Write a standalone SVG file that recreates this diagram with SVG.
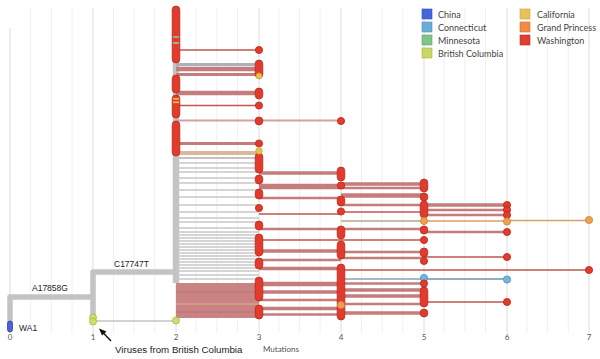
<svg xmlns="http://www.w3.org/2000/svg" width="600" height="359" viewBox="0 0 600 359">
<defs>
<style>
.minor{stroke:#f0f0f0;stroke-width:1;fill:none}
.major{stroke:#dcdcdc;stroke-width:1;fill:none}
.br{stroke:#c3c3c3;fill:none;stroke-linejoin:round}
.gl{stroke:#c8c8c8;stroke-width:1.6;fill:none}
.pk{stroke:#c47c7c;fill:none}
.rl{stroke:#c5554e;stroke-width:1.3;fill:none}
.n{fill:#e23a2b;stroke:#b5291e;stroke-width:.8}
.y{fill:#e9c152;stroke:#c9a035;stroke-width:.8}
.o{fill:#f0a050;stroke:#d0803a;stroke-width:.8}
.b{fill:#78b5db;stroke:#4a8fbf;stroke-width:.8}
.g{fill:#cfdd6a;stroke:#a9b545;stroke-width:.8}
.t{font-family:"Liberation Sans",Arial,sans-serif;fill:#222}
.ax{font-family:Lato,"Liberation Sans",sans-serif;font-size:8px;fill:#555}
.lg{font-family:Lato,"Liberation Sans",sans-serif;font-size:9px;fill:#444}
</style>
</defs>
<rect width="600" height="359" fill="#fff"/>
<g id="grid">
<path class="minor" d="M30.7 8V333M51.4 8V333M72 8V333M113.4 8V333M134.1 8V333M154.7 8V333M196.1 8V333M216.8 8V333M237.4 8V333M278.8 8V333M299.5 8V333M320.1 8V333M361.5 8V333M382.2 8V333M402.8 8V333M444.2 8V333M464.9 8V333M485.5 8V333M526.9 8V333M547.6 8V333M568.2 8V333"/>
<path class="major" d="M10 28V333M93 8V333M176 8V333M259 8V333M341 8V333M424 8V333M507 8V333M589 8V333"/>
</g>
<g id="axis">
<text class="ax" x="10" y="340" text-anchor="middle">0</text>
<text class="ax" x="93" y="340" text-anchor="middle">1</text>
<text class="ax" x="176" y="340" text-anchor="middle">2</text>
<text class="ax" x="259" y="340" text-anchor="middle">3</text>
<text class="ax" x="341" y="340" text-anchor="middle">4</text>
<text class="ax" x="424" y="340" text-anchor="middle">5</text>
<text class="ax" x="507" y="340" text-anchor="middle">6</text>
<text class="ax" x="589" y="340" text-anchor="middle">7</text>
<text class="ax" x="263" y="352">Mutations</text>
</g>
<g id="connectors">
<path class="br" stroke-width="5.5" d="M10 324V297H93"/>
<path class="br" stroke-width="5.5" d="M93 318V272H176"/>
<path class="br" stroke-width="6.5" d="M176 8V283"/>
<path class="br" stroke-width="1.5" d="M93 321H176"/>
<path class="gl" d="M176 163H259M176 168H259M176 172H259M176 178H259M176 183H259M176 190H259M176 197H259M176 205H259M176 212H259M176 218H259M176 222H259M176 228H259M176 232H259M176 235H259M176 238H259M176 241H259M176 244H259M176 247H259M176 250H259M176 253H259M176 256H259M176 259H259M176 262H259M176 265H259M176 268H259M176 271H259M176 275H259M176 279H259"/>
<rect x="176" y="283" width="83" height="35" fill="#c98383"/>
<path d="M176 304H259" stroke="#d8a287" stroke-width="1.5"/>
<path d="M176 292H259M176 312H259" stroke="#c07272" stroke-width="1"/>
<path class="rl" d="M176 50H259M176 105.5H259"/>
<path d="M176 64.5H259" stroke="#a9b2bb" stroke-width="3"/>
<path class="pk" stroke-width="4.5" d="M176 69H259M176 93H259"/>
<path class="pk" stroke-width="3" d="M176 74.5H259M176 143.5H259"/>
<path d="M176 120.5H341" stroke="#d2a2a2" stroke-width="2"/>
<path d="M176 153H259" stroke="#d9b79b" stroke-width="4"/>
<path d="M176 158H259" stroke="#c3c3c3" stroke-width="2"/>
<path class="pk" stroke-width="3.5" d="M259 173H341M259 251H341M259 268.5H341M259 292H341M259 308.5H341"/>
<path class="pk" stroke-width="5.5" d="M259 186.5H341"/>
<path class="pk" stroke-width="4.5" d="M259 284H341"/>
<path class="pk" stroke-width="2.5" d="M259 198H341M259 229H341M259 260H341M259 300H341M259 314.5H341"/>
<path class="rl" d="M259 214H341M259 240H341"/>
<path class="pk" stroke-width="3.5" d="M341 184H424M341 290H424M341 296H424M341 313H424"/>
<path class="pk" stroke-width="2.5" d="M341 188H424M341 229H424M341 252H424M341 258H424M341 283.5H424M341 304H424"/>
<path class="pk" stroke-width="4.5" d="M341 195.5H424"/>
<path class="pk" stroke-width="2.5" d="M341 205H424"/>
<path class="rl" d="M341 212H424M341 240H424M341 270H589"/>
<path d="M341 221H424" stroke="#c6bfa8" stroke-width="2"/>
<path d="M341 279H424" stroke="#a8b8c6" stroke-width="2"/>
<path class="pk" stroke-width="3.5" d="M424 205H507"/>
<path class="pk" stroke-width="2.5" d="M424 210H507M424 215H507M424 232H507"/>
<path class="rl" d="M424 257H507M424 302H507"/>
<path d="M424 221H507M507 220.5H589" stroke="#dca066" stroke-width="1.5"/>
<path d="M424 279H507" stroke="#8faec6" stroke-width="2"/>
</g>
<g id="node-wa1">
<rect x="7.5" y="321" width="5" height="11" rx="2.5" fill="#4a62d8" stroke="#3b3f9c" stroke-width=".8"/>
<text class="t" x="19" y="331" font-size="8.5">WA1</text>
</g>
<g id="labels">
<text class="t" x="32" y="291" font-size="8.5">A17858G</text>
<text class="t" x="114" y="267" font-size="8.5">C17747T</text>
</g>
<g id="node-bc">
<circle class="g" cx="93" cy="317.5" r="3.5"/>
<circle class="g" cx="93" cy="321.5" r="3.5"/>
<circle class="g" cx="176" cy="320.5" r="3.5"/>
</g>
<g id="nodes-col2">
<rect class="n" x="172.2" y="6" width="7.6" height="57" rx="3.8"/>
<rect x="173" y="36" width="6" height="2" fill="#a9a0a0"/>
<rect x="173" y="42" width="6" height="2" fill="#b0a5a5"/>
<rect class="n" x="172.2" y="75" width="7.6" height="18" rx="3.8"/>
<rect class="n" x="172.2" y="95" width="7.6" height="23" rx="3.8"/>
<rect x="173" y="98" width="6" height="1.6" fill="#e9c152"/>
<rect x="173" y="101.5" width="6" height="1.6" fill="#e9c152"/>
<rect class="n" x="172.2" y="121" width="7.6" height="35" rx="3.8"/>
</g>
<g id="nodes-col3">
<circle class="n" cx="259" cy="50" r="3.6"/>
<rect class="n" x="255.2" y="60" width="7.6" height="18" rx="3.8"/>
<circle class="y" cx="259" cy="76" r="3"/>
<rect class="n" x="255.2" y="88" width="7.6" height="11" rx="3.8"/>
<circle class="n" cx="259" cy="105.5" r="3.6"/>
<rect class="n" x="255.2" y="117" width="7.6" height="8" rx="3.8"/>
<circle class="n" cx="259" cy="143.5" r="3.6"/>
<rect class="n" x="255.2" y="153" width="7.6" height="20" rx="3.8"/>
<circle class="y" cx="259" cy="151" r="3.2"/>
<rect class="n" x="255.2" y="175" width="7.6" height="9" rx="3.8"/>
<rect class="n" x="255.2" y="189" width="7.6" height="10" rx="3.8"/>
<circle class="n" cx="259" cy="208" r="3.6"/>
<rect class="n" x="255.2" y="221" width="7.6" height="9" rx="3.8"/>
<rect class="n" x="255.2" y="234" width="7.6" height="22" rx="3.8"/>
<rect class="n" x="255.2" y="258" width="7.6" height="11" rx="3.8"/>
<rect class="n" x="255.2" y="277" width="7.6" height="24" rx="3.8"/>
<rect class="n" x="255.2" y="305" width="7.6" height="14" rx="3.8"/>
</g>
<g id="nodes-col4">
<circle class="n" cx="341" cy="121" r="3.6"/>
<rect class="n" x="337.2" y="167" width="7.6" height="14" rx="3.8"/>
<rect class="n" x="337.2" y="182" width="7.6" height="7" rx="3.5"/>
<rect class="n" x="337.2" y="196" width="7.6" height="10" rx="3.8"/>
<circle class="n" cx="341" cy="211.5" r="3.6"/>
<rect class="n" x="337.2" y="226" width="7.6" height="13" rx="3.8"/>
<rect class="n" x="337.2" y="241" width="7.6" height="18" rx="3.8"/>
<rect class="n" x="337.2" y="264" width="7.6" height="56" rx="3.8"/>
<circle class="o" cx="341" cy="305" r="3.6"/>
</g>
<g id="nodes-col5">
<rect class="n" x="420.2" y="179" width="7.6" height="13" rx="3.8"/>
<rect class="n" x="420.2" y="193" width="7.6" height="8" rx="3.8"/>
<rect class="n" x="420.2" y="201" width="7.6" height="17" rx="3.8"/>
<circle class="o" cx="424" cy="221" r="3.6"/>
<rect class="n" x="420.2" y="226" width="7.6" height="8" rx="3.8"/>
<circle class="n" cx="424" cy="240" r="3.6"/>
<rect class="n" x="420.2" y="248" width="7.6" height="9" rx="3.8"/>
<circle class="n" cx="424" cy="261" r="3.6"/>
<circle class="b" cx="424" cy="278" r="3.6"/>
<circle class="n" cx="424" cy="283.5" r="3.6"/>
<rect class="n" x="420.2" y="287" width="7.6" height="20" rx="3.8"/>
<rect class="n" x="420.2" y="309" width="7.6" height="8" rx="3.8"/>
</g>
<g id="nodes-col6">
<circle class="n" cx="507" cy="205" r="3.6"/>
<circle class="n" cx="507" cy="210" r="3.6"/>
<circle class="n" cx="507" cy="215" r="3.6"/>
<circle class="o" cx="507" cy="221.5" r="3.6"/>
<circle class="n" cx="507" cy="232" r="3.6"/>
<circle class="n" cx="507" cy="257" r="3.6"/>
<circle class="b" cx="507" cy="279.5" r="3.6"/>
<circle class="n" cx="507" cy="302" r="3.6"/>
</g>
<g id="nodes-col7">
<circle class="o" cx="589" cy="220" r="3.6"/>
<circle class="n" cx="589" cy="270" r="3.6"/>
</g>
<g id="annotation">
<path d="M111 341L101 330.5" stroke="#111" stroke-width="1.4" fill="none"/>
<path d="M99 328.5L106.5 331.5L102 335.5Z" fill="#111"/>
<text class="t" x="115" y="353" font-size="9.7">Viruses from British Columbia</text>
</g>
<g id="legend">
<rect x="422" y="9" width="10" height="10" fill="#4466dd" stroke="#3350b0" stroke-width=".6"/>
<text class="lg" x="438" y="17.5">China</text>
<rect x="422" y="22" width="10" height="10" fill="#6aaed6" stroke="#4f8fb8" stroke-width=".6"/>
<text class="lg" x="438" y="30.5">Connecticut</text>
<rect x="422" y="35" width="10" height="10" fill="#80c48c" stroke="#5ea56c" stroke-width=".6"/>
<text class="lg" x="438" y="43.5">Minnesota</text>
<rect x="422" y="48" width="10" height="10" fill="#c8d766" stroke="#a6b548" stroke-width=".6"/>
<text class="lg" x="438" y="56.5">British Columbia</text>
<rect x="520" y="9" width="10" height="10" fill="#e9c257" stroke="#c9a23a" stroke-width=".6"/>
<text class="lg" x="537" y="17.5">California</text>
<rect x="520" y="22" width="10" height="10" fill="#f08c45" stroke="#cf6f2c" stroke-width=".6"/>
<text class="lg" x="537" y="30.5">Grand Princess</text>
<rect x="520" y="35" width="10" height="10" fill="#e0402f" stroke="#b52a1e" stroke-width=".6"/>
<text class="lg" x="537" y="43.5">Washington</text>
</g>
</svg>
